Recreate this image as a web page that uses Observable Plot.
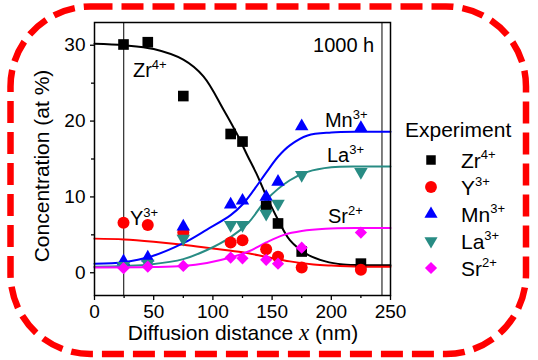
<!DOCTYPE html>
<html><head><meta charset="utf-8">
<script src="https://cdn.jsdelivr.net/npm/d3@7"></script>
<script src="https://cdn.jsdelivr.net/npm/@observablehq/plot@0.6"></script>
<style>
body{margin:0;background:#fff;}
#wrap{position:relative;width:538px;height:360px;font-family:"Liberation Sans",Arial,sans-serif;}
#wrap svg{position:absolute;left:0;top:0;}
</style></head><body><div id="wrap"></div>
<script>
// ---- data ----
const ions = ["Zr","Y","Mn","La","Sr"];
const charges = ["4+","3+","3+","3+","2+"];
const colors = ["#000000","#ff0000","#0000ff","#288c84","#ff00ff"];
const legendTitle = "Experiment";
const timeLabel = "1000 h";

const expX  = [24.5,45,75,115,125,145,155,175,225];
const zrExp = [30.1,30.4,23.3,18.3,17.3,8.8,6.5,2.8,1.2];
const yExp  = [6.6,6.3,5.3,4.0,4.3,3.1,2.1,0.7,0.4];
const mnExp = [1.5,2.0,6.1,9.0,9.5,10.0,12.0,19.3,19.1];
const laExp = [0.9,1.2,4.5,6.3,6.3,7.8,9.1,12.9,13.3];
const srExp = [0.6,0.8,0.9,2.0,1.9,1.7,1.2,3.3,5.3];

const zrFitX = [0,25,50,75,92,109,121,129,137,144,155,165,180,195,210,230,250];
const zrFitY = [30.2,30.0,29.5,28.1,25.9,21.5,18.1,15.5,13.0,10.5,7.0,4.3,2.4,1.5,1.1,1.0,1.0];
const yFitX  = [0,25,50,75,100,125,145,165,185,200,225,250];
const yFitY  = [4.5,4.4,4.1,3.7,3.2,2.7,2.1,1.5,1.1,0.95,0.8,0.8];
const mnFitX = [0,25,47,75,95,115,125,135,145,155,165,180,200,225,250];
const mnFitY = [1.2,1.4,2.1,3.9,5.7,7.6,9.0,11.0,13.2,15.3,16.8,18.1,18.5,18.6,18.6];
const laFitX = [0,25,47,75,95,115,130,145,165,180,200,225,250];
const laFitY = [0.8,0.9,1.1,1.8,3.0,4.7,6.6,9.6,12.2,13.3,13.9,14.0,14.0];
const srFitX = [0,50,75,95,115,130,145,160,175,195,225,250];
const srFitY = [0.7,0.75,0.9,1.3,2.0,2.8,4.0,5.0,5.5,5.8,5.9,5.9];

const refLines = [24.7, 242.8];
const xTicks = [0,50,100,150,200,250];
const xMinor = [25,75,125,175,225];
const yTicks = [0,10,20,30];
const yMinor = [5,15,25];

// label anchor points (data coords)
const labelX = [32.9, 30.4, 195, 196.8, 197.6];
const labelY = [25.8, 6.2, 19.2, 14.5, 6.5];
const timeX = 185, timeY = 29.1;

// ---- build ----
const expSets = [zrExp,yExp,mnExp,laExp,srExp];
const fitX = [zrFitX,yFitX,mnFitX,laFitX,srFitX];
const fitY = [zrFitY,yFitY,mnFitY,laFitY,srFitY];
const symbols = ["square","circle","triangle","triangle","diamond2"];
const rot = [0,0,0,180,0];
const rad = [6,6,5,5,5.5];

const marks = [
  Plot.ruleX(refLines, {stroke:"#000", strokeWidth:1})
];
ions.forEach((ion,i)=>{
  const d = fitX[i].map((x,j)=>({x, y: fitY[i][j]}));
  marks.push(Plot.line(d, {x:"x", y:"y", stroke:colors[i], strokeWidth:2, curve:"catmull-rom"}));
});
ions.forEach((ion,i)=>{
  const d = expX.map((x,j)=>({x, y: expSets[i][j]})).filter(p=>p.y!=null);
  marks.push(Plot.dot(d, {x:"x", y:"y", fill:colors[i], stroke:"none", symbol:symbols[i], r:rad[i], rotate:rot[i]}));
});
marks.push(
  Plot.frame({stroke:"#000", strokeWidth:1.5}),
  Plot.axisX({ticks:xTicks, tickSize:5, tickPadding:4, label:null, strokeWidth:1.3}),
  Plot.axisX({ticks:xMinor, tickSize:3, tickFormat:()=>"", label:null, strokeWidth:1.3}),
  Plot.axisY({ticks:yTicks, tickSize:4, tickPadding:5, label:null, strokeWidth:1.3}),
  Plot.axisY({ticks:yMinor, tickSize:3, tickFormat:()=>"", label:null, strokeWidth:1.3})
);

const chart = Plot.plot({
  width:538, height:360,
  marginLeft:94, marginRight:148, marginTop:22, marginBottom:65,
  x:{domain:[0,250]}, y:{domain:[-3,33]},
  style:{fontFamily:"'Liberation Sans', Arial, sans-serif", fontSize:"19px", color:"#000", background:"transparent", overflow:"visible"},
  marks
});
document.getElementById("wrap").appendChild(chart);

const sx = chart.scale("x"), sy = chart.scale("y");
const svg = d3.select(chart);
const g = svg.append("g").attr("font-family","'Liberation Sans', Arial, sans-serif").attr("fill","#000").attr("text-anchor","start");

function supText(parent, x, y, base, sup, size, supSize, dy){
  const t = parent.append("text").attr("x",x).attr("y",y).attr("font-size",size).attr("text-anchor","start");
  t.append("tspan").text(base);
  if (sup) t.append("tspan").attr("font-size",supSize).attr("dy",dy).text(sup);
  return t;
}
ions.forEach((ion,i)=>{
  supText(g, sx.apply(labelX[i]), sy.apply(labelY[i]), ion, charges[i], 20, 13, -8);
});
g.append("text").attr("x",sx.apply(timeX)).attr("y",sy.apply(timeY)).attr("font-size",20).attr("text-anchor","start").text(timeLabel);

// axis labels
const xl = g.append("text").attr("x",243).attr("y",340).attr("text-anchor","middle").attr("font-size",21);
xl.append("tspan").text("Diffusion distance ");
xl.append("tspan").attr("font-family","'Liberation Serif', 'Times New Roman', serif").attr("font-style","italic").attr("font-size",23).text("x");
xl.append("tspan").text(" (nm)");
g.append("text").attr("transform","translate(49,166) rotate(-90)").attr("text-anchor","middle").attr("font-size",21).text("Concentration (at %)");

// legend
const lg = g.append("g");
lg.append("text").attr("x",405).attr("y",137).attr("font-size",21).attr("text-anchor","start").text(legendTitle);
const lsym = [d3.symbolSquare,d3.symbolCircle,d3.symbolTriangle,d3.symbolTriangle,d3.symbolDiamond2];
const lsize = [90,110,75,75,95];
ions.forEach((ion,i)=>{
  const cy = 160 + i*27;
  lg.append("path").attr("d", d3.symbol(lsym[i], lsize[i])())
    .attr("transform",`translate(431,${cy}) rotate(${rot[i]})`).attr("fill",colors[i]);
  supText(lg, 461, cy+8, ion, charges[i], 21, 13, -9);
});

// dashed rounded border
const ov = d3.select("#wrap").append("svg").attr("width",538).attr("height",360);
ov.append("rect").attr("x",10.5).attr("y",6.5).attr("width",515.5).attr("height",347.5).attr("rx",80).attr("ry",80)
  .attr("fill","none").attr("stroke","#ff0000").attr("stroke-width",6.5).attr("stroke-dasharray","22 9");
</script>
</body></html>
